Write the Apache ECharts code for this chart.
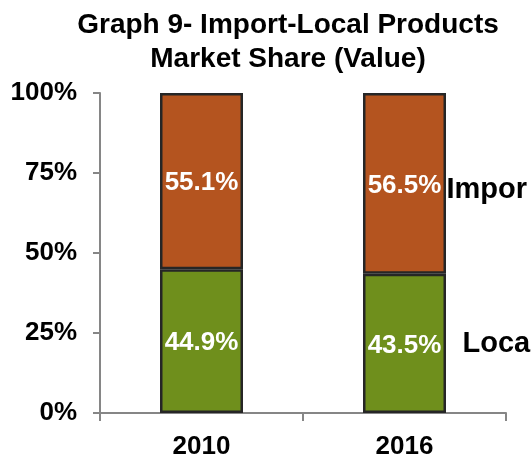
<!DOCTYPE html>
<html>
<head>
<meta charset="utf-8">
<script src="https://cdn.jsdelivr.net/npm/echarts@6/dist/echarts.min.js"></script>
<style>
  html, body { margin: 0; padding: 0; background: #fff; }
  #chart { width: 532px; height: 456px; }
</style>
</head>
<body>
<div id="chart"></div>
<script>
// values
var years = ['2010', '2016']
var localShare = [44.9, 43.5]
var importShare = [55.1, 56.5]
var seriesNames = ['Loca', 'Impor'] // cut off at the right edge in the original
var yTicks = [0, 25, 50, 75, 100]

var chart = echarts.init(document.getElementById('chart'))
var font = 'Liberation Sans, Arial, sans-serif'
var last = years.length - 1

function sideLabel (name, value, dx, dy) {
  return {
    coord: [last, value],
    symbolSize: 0,
    label: {
      show: true,
      position: 'right',
      distance: dx,
      offset: [0, dy],
      formatter: name,
      color: '#000',
      fontSize: 29,
      fontWeight: 'bold',
      fontFamily: font
    }
  }
}

function pct (p) {
  return p.value.toFixed(1) + '%'
}

var option = {
  animation: false,
  title: {
    text: 'Graph 9- Import-Local Products\nMarket Share (Value)',
    left: 283,
    textAlign: 'center',
    top: 3,
    textStyle: {
      fontSize: 28,
      fontWeight: 'bold',
      fontFamily: font,
      color: '#000',
      lineHeight: 34
    }
  },
  grid: { left: 100, right: 26, top: 93, bottom: 43, containLabel: false, outerBoundsMode: 'none' },
  xAxis: {
    type: 'category',
    data: years,
    axisLine: { lineStyle: { color: '#868686', width: 2 } },
    axisTick: { show: true, length: 8, lineStyle: { color: '#868686', width: 2 } },
    axisLabel: { color: '#000', fontSize: 26, fontWeight: 'bold', fontFamily: font, margin: 21 }
  },
  yAxis: {
    type: 'value',
    min: yTicks[0],
    max: yTicks[yTicks.length - 1],
    interval: 25,
    splitLine: { show: false },
    axisLine: { show: true, lineStyle: { color: '#868686', width: 2 } },
    axisTick: { show: true, length: 7, lineStyle: { color: '#868686', width: 2 } },
    axisLabel: {
      color: '#000', fontSize: 26, fontWeight: 'bold', fontFamily: font, margin: 23,
      formatter: function (v) { return v + '%' }
    }
  },
  series: [
    {
      name: 'Local',
      type: 'bar',
      stack: 'share',
      barWidth: 83,
      data: localShare,
      itemStyle: { color: '#6F8F1C', borderColor: '#262626', borderWidth: 2.5 },
      label: {
        show: true, position: 'inside', color: '#fff', fontSize: 26, fontWeight: 'bold', fontFamily: font,
        offset: [0, 2], formatter: pct
      },
      markPoint: { data: [sideLabel(seriesNames[0], localShare[last] / 2, 58, 1)] }
    },
    {
      name: 'Import',
      type: 'bar',
      stack: 'share',
      barWidth: 83,
      data: importShare,
      itemStyle: { color: '#B4541F', borderColor: '#262626', borderWidth: 2.5 },
      label: {
        show: true, position: 'inside', color: '#fff', fontSize: 26, fontWeight: 'bold', fontFamily: font,
        offset: [0, 2], formatter: pct
      },
      markPoint: { data: [sideLabel(seriesNames[1], localShare[last] + importShare[last] / 2, 42, 7)] }
    }
  ]
}

chart.setOption(option)
</script>
</body>
</html>
